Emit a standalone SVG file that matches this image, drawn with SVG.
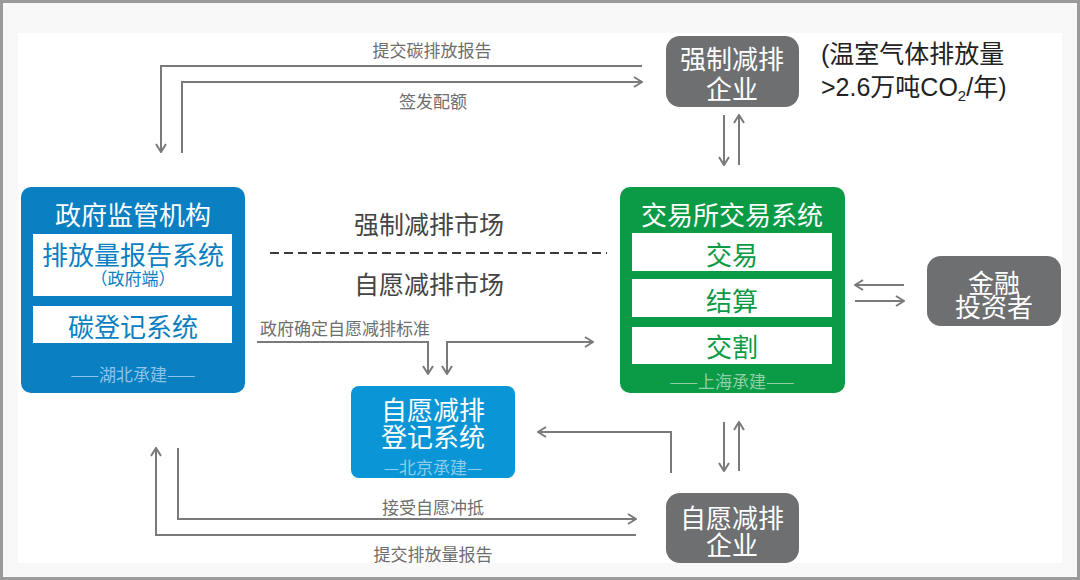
<svg xmlns="http://www.w3.org/2000/svg" width="1080" height="580" viewBox="0 0 1080 580">
<defs>
<style>
.t{font-family:"Noto Sans CJK SC","Noto Sans",sans-serif;text-anchor:middle;dominant-baseline:central}
.w{fill:#ffffff;font-size:26px}
.b{fill:#0a7fc2;font-size:26px}
.g{fill:#0b9a46;font-size:26px}
.lbl{fill:#6e6e6e;font-size:17px}
.mk{fill:#444444;font-size:25px}
.c{fill:none;stroke:#7a7a7a;stroke-width:2}
.gray{fill:#6d6f71}
</style>
<marker id="ah" viewBox="0 0 10 12" refX="9" refY="6" markerWidth="10" markerHeight="12" markerUnits="userSpaceOnUse" orient="auto-start-reverse">
<path d="M1,1 L9,6 L1,11" fill="none" stroke="#7a7a7a" stroke-width="2"/>
</marker>
</defs>
<rect x="0" y="0" width="1080" height="580" fill="#f8f8f8"/>
<rect x="18" y="33" width="1044" height="530" fill="#ffffff"/>
<rect x="1.5" y="1.5" width="1077" height="577" fill="none" stroke="#9a9a9a" stroke-width="3"/>

<g id="connectors">
<path class="c" d="M642,66 H161 V152" marker-end="url(#ah)"/>
<path class="c" d="M182,153 V82 H642" marker-end="url(#ah)"/>
<path class="c" d="M724,115 V165" marker-end="url(#ah)"/>
<path class="c" d="M739,165 V115" marker-end="url(#ah)"/>
<path class="c" d="M904,285 H855" marker-end="url(#ah)"/>
<path class="c" d="M855,301 H904" marker-end="url(#ah)"/>
<path class="c" d="M724,422 V471" marker-end="url(#ah)"/>
<path class="c" d="M739,471 V422" marker-end="url(#ah)"/>
<path class="c" d="M671,473 V432 H538" marker-end="url(#ah)"/>
<path class="c" d="M257,342 H428 V374" marker-end="url(#ah)"/>
<path class="c" d="M447,374 V342 H593" marker-start="url(#ah)" marker-end="url(#ah)"/>
<path class="c" d="M178,448 V519 H636" marker-end="url(#ah)"/>
<path class="c" d="M636,535 H156 V448" marker-end="url(#ah)"/>
<line x1="270" y1="253" x2="607" y2="253" stroke="#3a3a3a" stroke-width="2" stroke-dasharray="9 5"/>
<text class="t lbl" x="432" y="49">提交碳排放报告</text>
<text class="t lbl" x="433" y="100">签发配额</text>
<text class="t lbl" x="345" y="327">政府确定自愿减排标准</text>
<text class="t lbl" x="433" y="506">接受自愿冲抵</text>
<text class="t lbl" x="433" y="553">提交排放量报告</text>
<text class="t mk" x="429" y="223">强制减排市场</text>
<text class="t mk" x="429" y="283">自愿减排市场</text>
</g>

<g id="gov">
<rect x="21" y="187" width="224" height="206" rx="10" fill="#0a7fc2"/>
<text class="t w" x="133" y="213">政府监管机构</text>
<rect x="33" y="234" width="199" height="62" fill="#ffffff"/>
<text class="t b" x="133" y="253">排放量报告系统<tspan x="133" dy="24" style="font-size:17px">（政府端）</tspan></text>
<rect x="33" y="306" width="199" height="37" fill="#ffffff"/>
<text class="t b" x="133" y="325">碳登记系统</text>
<text class="t" x="133" y="373" style="font-size:17px;fill:#8cc4ea">——湖北承建——</text>
</g>

<g id="exchange">
<rect x="620" y="187" width="225" height="206" rx="10" fill="#0b9a46"/>
<text class="t w" x="732" y="213">交易所交易系统</text>
<rect x="632" y="233" width="200" height="38" fill="#ffffff"/>
<text class="t g" x="732" y="253">交易</text>
<rect x="632" y="279" width="200" height="38" fill="#ffffff"/>
<text class="t g" x="732" y="299">结算</text>
<rect x="632" y="327" width="200" height="37" fill="#ffffff"/>
<text class="t g" x="732" y="345">交割</text>
<text class="t" x="732" y="380" style="font-size:17px;fill:#8fd0a8">——上海承建——</text>
</g>

<g id="mandatory">
<rect class="gray" x="666" y="36" width="133" height="71" rx="14"/>
<text class="t w" x="732" y="57">强制减排<tspan x="732" dy="30">企业</tspan></text>
</g>

<g id="note">
<text x="821" y="63" style="font-family:'Liberation Sans','Noto Sans CJK SC',sans-serif;font-size:25px;fill:#222222">(温室气体排放量</text>
<text x="821" y="96" style="font-family:'Liberation Sans','Noto Sans CJK SC',sans-serif;font-size:25px;fill:#222222">&gt;2.6万吨CO<tspan font-size="15" dy="5">2</tspan><tspan dy="-5">/年)</tspan></text>
</g>

<g id="voluntary">
<rect class="gray" x="666" y="493" width="133" height="70" rx="14"/>
<text class="t w" x="732" y="516">自愿减排<tspan x="732" dy="27">企业</tspan></text>
</g>

<g id="investor">
<rect class="gray" x="927" y="256" width="134" height="70" rx="14"/>
<text class="t w" x="994" y="281">金融<tspan x="994" dy="24">投资者</tspan></text>
</g>

<g id="registry">
<rect x="351" y="386" width="164" height="92" rx="8" fill="#0a96d6"/>
<text class="t w" x="433" y="408">自愿减排<tspan x="433" dy="27">登记系统</tspan></text>
<text class="t" x="433" y="466" style="font-size:17px;fill:#8ccbec">—北京承建—</text>
</g>
</svg>
